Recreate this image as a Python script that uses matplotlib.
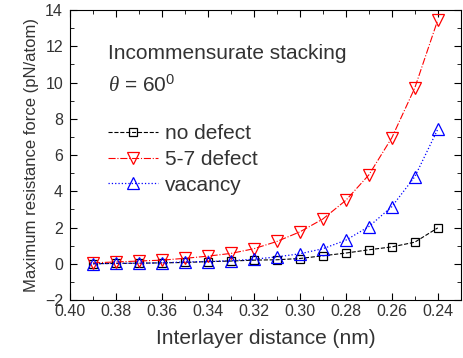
import matplotlib
matplotlib.use('Agg')
import matplotlib.pyplot as plt
from matplotlib.ticker import MultipleLocator

plt.rcParams['font.family'] = ['Liberation Sans', 'DejaVu Sans']
plt.rcParams['mathtext.fontset'] = 'custom'
plt.rcParams['mathtext.it'] = 'Liberation Serif:italic'
plt.rcParams['mathtext.rm'] = 'Liberation Sans'

# data
distance = [0.39, 0.38, 0.37, 0.36, 0.35, 0.34, 0.33, 0.32,
            0.31, 0.30, 0.29, 0.28, 0.27, 0.26, 0.25, 0.24]
no_defect = [0.0, 0.02, 0.03, 0.05, 0.07, 0.12, 0.15, 0.2,
             0.22, 0.29, 0.44, 0.59, 0.77, 0.93, 1.19, 1.98]
defect_57 = [0.05, 0.1, 0.15, 0.2, 0.3, 0.42, 0.57, 0.83,
             1.23, 1.76, 2.47, 3.5, 4.9, 6.95, 9.7, 13.45]
vacancy = [0.0, 0.02, 0.03, 0.05, 0.1, 0.12, 0.17, 0.25,
           0.38, 0.55, 0.83, 1.3, 2.05, 3.15, 4.8, 7.42]

fig = plt.figure(figsize=(4.64, 3.58), dpi=100)
ax = fig.add_axes([0.151, 0.162, 0.842, 0.81])

ax.plot(distance, no_defect, ls='--', color='black', lw=0.8, marker='s',
        ms=6, mfc='none', mew=0.9, label='no defect')
ax.plot(distance, defect_57, ls='-.', color='red', lw=0.8, marker='v',
        ms=8, mfc='none', mew=0.9, label='5-7 defect')
ax.plot(distance, vacancy, ls=':', color='blue', lw=0.9, marker='^',
        ms=8, mfc='none', mew=0.9, label='vacancy')

ax.set_xlim(0.40, 0.23)
ax.set_ylim(-2, 14)
ax.set_xticks([0.40, 0.38, 0.36, 0.34, 0.32, 0.30, 0.28, 0.26, 0.24])
ax.set_xticklabels(['0.40', '0.38', '0.36', '0.34', '0.32', '0.30', '0.28', '0.26', '0.24'])
ax.xaxis.set_minor_locator(MultipleLocator(0.01))
ax.yaxis.set_major_locator(MultipleLocator(2))
ax.yaxis.set_minor_locator(MultipleLocator(1))
ax.tick_params(which='both', direction='in', top=True, right=True,
               labelsize=11.5, labelcolor='#333333')
ax.tick_params(axis='x', pad=3)
ax.tick_params(axis='y', pad=5)
ax.tick_params(which='major', length=5)
ax.tick_params(which='minor', length=3)

ax.set_xlabel('Interlayer distance (nm)', fontsize=15, color='#333333', labelpad=7)
ax.set_ylabel('Maximum resistance force (pN/atom)', fontsize=12, color='#333333', labelpad=4)

ax.text(0.097, 0.83, 'Incommensurate stacking', transform=ax.transAxes,
        fontsize=15, color='#333333', va='baseline')
ax.text(0.097, 0.717, r'$\theta$ = 60$^0$', transform=ax.transAxes,
        fontsize=15, color='#333333', va='baseline')

ax.legend(loc='upper left', bbox_to_anchor=(0.097, 0.607), frameon=False,
          fontsize=15, handlelength=2.4, handletextpad=0.35, borderpad=0,
          labelspacing=0.33, borderaxespad=0, labelcolor='#333333')

fig.savefig('out.png', dpi=100)
